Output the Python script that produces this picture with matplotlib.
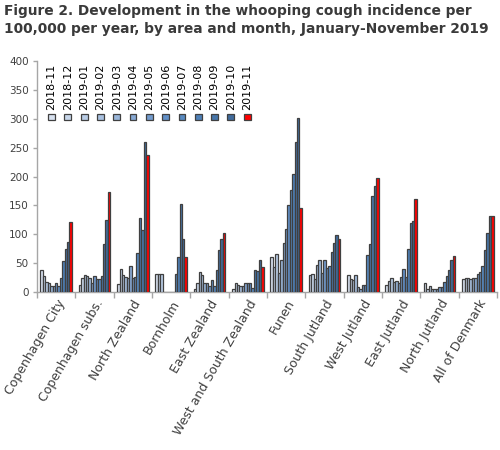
import numpy as np
import matplotlib.pyplot as plt
from matplotlib.patches import Rectangle

# areas and months
areas = ['Copenhagen City', 'Copenhagen subs.', 'North Zealand', 'Bornholm',
         'East Zealand', 'West and South Zealand', 'Funen', 'South Jutland',
         'West Jutland', 'East Jutland', 'North Jutland', 'All of Denmark']
months = ['2018-11', '2018-12', '2019-01', '2019-02', '2019-03', '2019-04',
          '2019-05', '2019-06', '2019-07', '2019-08', '2019-09', '2019-10',
          '2019-11']

# incidence per 100,000 per year, one list per area (13 months each)
copenhagen_city = [39, 27, 18, 15, 11, 11, 15, 11, 25, 53, 74, 86, 121]
copenhagen_subs = [13, 24, 29, 27, 24, 16, 27, 22, 22, 27, 84, 124, 173]
north_zealand = [14, 40, 30, 26, 25, 45, 25, 26, 67, 128, 108, 260, 237]
bornholm = [31, 31, 31, 0, 0, 0, 0, 0, 31, 60, 152, 91, 60]
east_zealand = [5, 15, 34, 29, 15, 15, 10, 20, 10, 39, 72, 91, 102]
west_south_zealand = [5, 15, 12, 10, 10, 15, 15, 15, 7, 39, 37, 55, 44]
funen = [61, 44, 66, 33, 56, 85, 110, 151, 177, 205, 260, 302, 146]
south_jutland = [30, 31, 23, 47, 55, 33, 55, 42, 45, 69, 85, 99, 92]
west_jutland = [30, 22, 20, 29, 8, 5, 13, 13, 65, 84, 167, 183, 197]
east_jutland = [12, 19, 24, 17, 19, 15, 26, 40, 26, 74, 119, 123, 161]
north_jutland = [15, 5, 11, 5, 6, 5, 8, 9, 18, 28, 39, 55, 63]
all_denmark = [22, 24, 25, 22, 24, 24, 31, 34, 45, 72, 102, 131, 131]

values = np.array([copenhagen_city, copenhagen_subs, north_zealand, bornholm,
                   east_zealand, west_south_zealand, funen, south_jutland,
                   west_jutland, east_jutland, north_jutland, all_denmark])

colors = ['#d7e1ef', '#c7d6ea', '#bacde6', '#a9c1e0', '#9ab6da', '#87a9d4',
          '#739bcd', '#6290c7', '#588ac1', '#4e80b7', '#4876aa', '#416b9c',
          '#ff0000']

plt.rcParams['font.family'] = ['DejaVu Sans']
txt = '#404040'
axcol = '#a6a6a6'

fig = plt.figure(figsize=(5, 4.5), dpi=100)
ax = fig.add_axes([0.074, 0.351, 0.92, 0.5134])

x = np.arange(len(areas))
w = 0.82 / len(months)
for j, m in enumerate(months):
    ax.bar(x + (j - 6) * w, values[:, j], width=w, color=colors[j],
           edgecolor='#404040', linewidth=0.9, label=m, zorder=3)

ax.set_xlim(-0.5, len(areas) - 0.5)
ax.set_ylim(0, 400)
ax.set_yticks(np.arange(0, 401, 50))
ax.tick_params(axis='y', colors=axcol, labelcolor=txt, labelsize=7.5,
               length=3, width=1, pad=3)

# category labels at centres, tick marks at group boundaries
ax.set_xticks(x)
ax.set_xticklabels(areas, rotation=60, ha='right', rotation_mode='anchor',
                   fontsize=9, color=txt)
ax.tick_params(axis='x', which='major', length=0, pad=4)
ax.set_xticks(np.arange(-0.5, len(areas), 1), minor=True)
ax.tick_params(axis='x', which='minor', length=4, width=1, colors=axcol)

for s in ['top', 'right']:
    ax.spines[s].set_visible(False)
for s in ['left', 'bottom']:
    ax.spines[s].set_color(axcol)
    ax.spines[s].set_linewidth(1)

# legend: one row, vertical text above square markers
for j, m in enumerate(months):
    lx = 0.0315 + j * 0.03546
    ax.add_patch(Rectangle((lx - 0.0075, 0.743), 0.015, 0.0286,
                           transform=ax.transAxes, facecolor=colors[j],
                           edgecolor='#404040', linewidth=0.9, clip_on=False,
                           zorder=5))
    ax.text(lx, 0.788, m, transform=ax.transAxes, rotation=90,
            ha='center', va='bottom', fontsize=8, color='black')

fig.text(0.008, 0.992, 'Figure 2. Development in the whooping cough incidence per\n'
         '100,000 per year, by area and month, January-November 2019',
         ha='left', va='top', fontsize=9.9, fontweight='bold', color='#3a3a3a',
         linespacing=1.4)

fig.savefig('out.png', dpi=100)
